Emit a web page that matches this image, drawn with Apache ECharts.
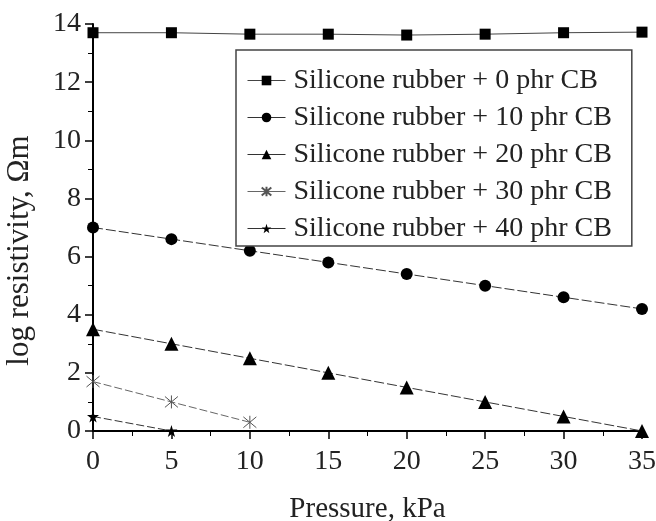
<!DOCTYPE html>
<html>
<head>
<meta charset="utf-8">
<script src="https://cdn.jsdelivr.net/npm/echarts@6/dist/echarts.min.js"></script>
<style>
  html, body { margin: 0; padding: 0; background: #fff; }
  #chart { width: 656px; height: 521px; }
</style>
</head>
<body>
<div id="chart"></div>
<script>
// Pressure steps (kPa)
const pressure = [0, 5, 10, 15, 20, 25, 30, 35];
const xTicks = [0, 5, 10, 15, 20, 25, 30, 35];
const yTicks = [0, 2, 4, 6, 8, 10, 12, 14];

// log resistivity (Ω·m) for each carbon black loading
const cb0 = [13.7, 13.7, 13.65, 13.65, 13.62, 13.65, 13.7, 13.72];
const cb10 = [7.0, 6.6, 6.2, 5.8, 5.4, 5.0, 4.6, 4.2];
const cb20 = [3.5, 3.0, 2.5, 2.0, 1.5, 1.0, 0.5, 0.0];
const cb30 = [1.7, 1.0, 0.3];
const cb40 = [0.5, 0.0];

const seriesNames = [
  'Silicone rubber + 0 phr CB',
  'Silicone rubber + 10 phr CB',
  'Silicone rubber + 20 phr CB',
  'Silicone rubber + 30 phr CB',
  'Silicone rubber + 40 phr CB'
];

const FONT = '"Liberation Serif", "Times New Roman", serif';
const asterisk = 'path://M0,0L10,10M10,0L0,10M5,-1L5,11';
const star = 'path://M50,0L61,35L98,35L68,57L79,91L50,70L21,91L32,57L2,35L39,35Z';

function pairs(values) {
  return values.map((v, i) => [pressure[i], v]);
}

function lineSeries(name, values, symbol, size, opts) {
  opts = opts || {};
  return {
    name: name,
    type: 'line',
    data: pairs(values),
    symbol: symbol,
    symbolSize: size,
    clip: false,
    lineStyle: { color: opts.lineColor || '#333', width: 1, type: opts.dash || 'solid' },
    itemStyle: opts.item || { color: '#000' },
    emphasis: { disabled: true },
    z: opts.z || 2
  };
}

const chart = echarts.init(document.getElementById('chart'), null, { renderer: 'canvas' });

chart.setOption({
  animation: false,
  backgroundColor: '#fff',
  grid: { left: 93, right: 14, top: 24, bottom: 90, containLabel: false, outerBoundsMode: 'none' },
  xAxis: {
    type: 'value',
    min: xTicks[0],
    max: xTicks[xTicks.length - 1],
    interval: 5,
    name: 'Pressure, kPa',
    nameLocation: 'middle',
    nameGap: 64,
    nameTextStyle: { fontFamily: FONT, fontSize: 29, color: '#222' },
    axisLine: { show: true, onZero: false, lineStyle: { color: '#000', width: 2 } },
    axisTick: { show: true, length: 8, lineStyle: { color: '#000', width: 1.5 } },
    minorTick: { show: true, splitNumber: 2, length: 5, lineStyle: { color: '#000', width: 1 } },
    splitLine: { show: false },
    axisLabel: { fontFamily: FONT, fontSize: 28, color: '#222', margin: 17 }
  },
  yAxis: {
    type: 'value',
    min: yTicks[0],
    max: yTicks[yTicks.length - 1],
    interval: 2,
    name: 'log resistivity, \u03A9m',
    nameLocation: 'middle',
    nameGap: 58,
    nameRotate: 90,
    nameTextStyle: { fontFamily: FONT, fontSize: 31, color: '#222', padding: [0, 0, 0, -46] },
    axisLine: { show: true, onZero: false, lineStyle: { color: '#000', width: 2 } },
    axisTick: { show: true, length: 8, lineStyle: { color: '#000', width: 1.5 } },
    minorTick: { show: true, splitNumber: 2, length: 5, lineStyle: { color: '#000', width: 1 } },
    splitLine: { show: false },
    axisLabel: { fontFamily: FONT, fontSize: 28, color: '#222', margin: 12 }
  },
  legend: {
    orient: 'vertical',
    left: 236,
    top: 50,
    padding: [16, 20, 3, 11],
    itemGap: 8,
    itemWidth: 38,
    itemHeight: 12,
    borderColor: '#444',
    borderWidth: 1.5,
    backgroundColor: '#fff',
    lineStyle: { type: 'solid', width: 1 },
    data: seriesNames,
    textStyle: { fontFamily: FONT, fontSize: 28, color: '#222', lineHeight: 29, padding: [0, 0, 0, 3] }
  },
  series: [
    lineSeries(seriesNames[0], cb0, 'rect', 11, { lineColor: '#444' }),
    lineSeries(seriesNames[1], cb10, 'circle', 12, { dash: [10, 3] }),
    lineSeries(seriesNames[2], cb20, 'triangle', 14, { dash: [10, 3] }),
    lineSeries(seriesNames[3], cb30, asterisk, 13, {
      lineColor: '#666', dash: [8, 3],
      item: { color: '#fff', borderColor: '#555', borderWidth: 1 }
    }),
    lineSeries(seriesNames[4], cb40, star, 12, { dash: [8, 3] })
  ]
});
</script>
</body>
</html>
